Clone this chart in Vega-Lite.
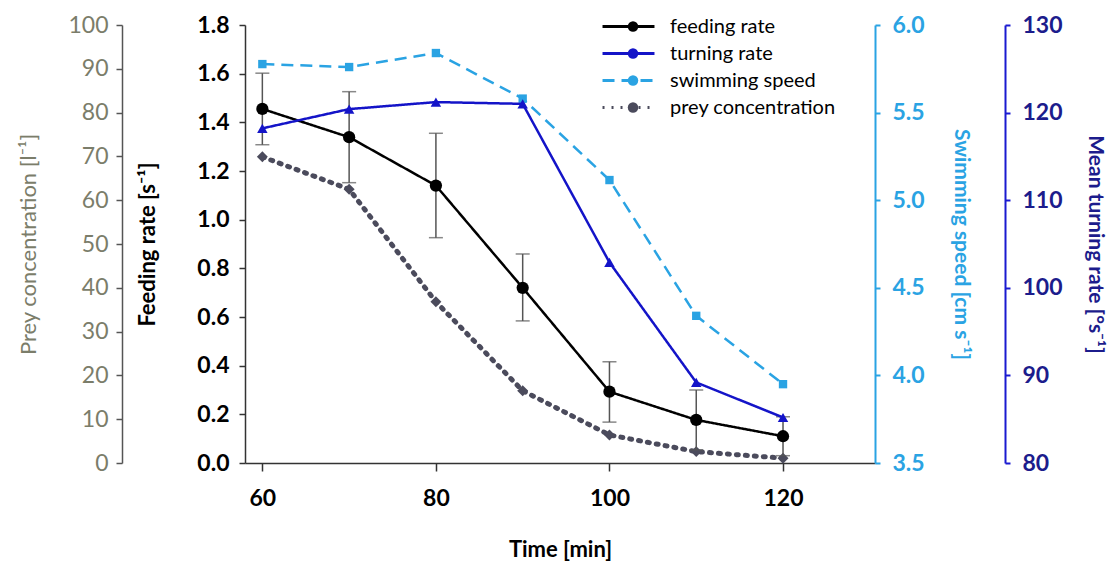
{
  "$schema": "https://vega.github.io/schema/vega-lite/v6.json",
  "width": 630,
  "height": 438,
  "autosize": "none",
  "padding": {"left": 245, "top": 25, "right": 244, "bottom": 100},
  "background": "white",
  "config": {
    "font": "Lato",
    "view": {"stroke": null},
    "axis": {"grid": false, "labelFont": "Lato", "titleFont": "Lato"},
    "legend": {"labelFont": "Lato"}
  },
  "data": {
    "values": [
      {"time": 60, "series": "feeding rate", "value": 1.455, "lo": 1.308, "hi": 1.602},
      {"time": 70, "series": "feeding rate", "value": 1.339, "lo": 1.152, "hi": 1.526},
      {"time": 80, "series": "feeding rate", "value": 1.140, "lo": 0.926, "hi": 1.355},
      {"time": 90, "series": "feeding rate", "value": 0.720, "lo": 0.584, "hi": 0.859},
      {"time": 100, "series": "feeding rate", "value": 0.293, "lo": 0.168, "hi": 0.416},
      {"time": 110, "series": "feeding rate", "value": 0.177, "lo": 0.054, "hi": 0.300},
      {"time": 120, "series": "feeding rate", "value": 0.110, "lo": 0.030, "hi": 0.190},
      {"time": 60, "series": "turning rate", "value": 118.2},
      {"time": 70, "series": "turning rate", "value": 120.4},
      {"time": 80, "series": "turning rate", "value": 121.2},
      {"time": 90, "series": "turning rate", "value": 121.0},
      {"time": 100, "series": "turning rate", "value": 102.9},
      {"time": 110, "series": "turning rate", "value": 89.2},
      {"time": 120, "series": "turning rate", "value": 85.2},
      {"time": 60, "series": "swimming speed", "value": 5.777},
      {"time": 70, "series": "swimming speed", "value": 5.76},
      {"time": 80, "series": "swimming speed", "value": 5.84},
      {"time": 90, "series": "swimming speed", "value": 5.58},
      {"time": 100, "series": "swimming speed", "value": 5.115},
      {"time": 110, "series": "swimming speed", "value": 4.34},
      {"time": 120, "series": "swimming speed", "value": 3.95},
      {"time": 60, "series": "prey concentration", "value": 69.9},
      {"time": 70, "series": "prey concentration", "value": 62.5},
      {"time": 80, "series": "prey concentration", "value": 36.8},
      {"time": 90, "series": "prey concentration", "value": 16.5},
      {"time": 100, "series": "prey concentration", "value": 6.4},
      {"time": 110, "series": "prey concentration", "value": 2.6},
      {"time": 120, "series": "prey concentration", "value": 1.1}
    ]
  },
  "encoding": {
    "x": {
      "field": "time",
      "type": "quantitative",
      "scale": {"domain": [58, 130.6], "nice": false, "zero": false},
      "axis": {
        "values": [60, 80, 100, 120],
        "title": "Time [min]",
        "titleFontSize": 22,
        "titleFontWeight": "bold",
        "titleColor": "#000000",
        "titlePadding": 29,
        "labelFontSize": 23,
        "labelFontWeight": "bold",
        "labelColor": "#000000",
        "labelPadding": 16,
        "tickSize": 8,
        "tickColor": "#333333",
        "domainColor": "#333333",
        "domainWidth": 1.5,
        "tickWidth": 1.5
      }
    },
    "color": {
      "field": "series",
      "type": "nominal",
      "scale": {
        "domain": ["feeding rate", "turning rate", "swimming speed", "prey concentration"],
        "range": ["#000000", "#1414c8", "#2aa3e3", "#4b4b5c"]
      },
      "legend": {
        "orient": "none",
        "legendX": 356,
        "legendY": -12,
        "title": null,
        "symbolType": "stroke",
        "symbolSize": 2700,
        "symbolStrokeWidth": 3,
        "labelFontSize": 20,
        "labelColor": "#000000",
        "labelOffset": 14,
        "labelLimit": 400,
        "clipHeight": 27,
        "rowPadding": 0
      }
    },
    "strokeDash": {
      "field": "series",
      "type": "nominal",
      "scale": {
        "domain": ["feeding rate", "turning rate", "swimming speed", "prey concentration"],
        "range": [[1, 0], [1, 0], [12, 7], [2, 7]]
      }
    }
  },
  "layer": [
    {
      "transform": [{"filter": "datum.series === 'prey concentration'"}],
      "encoding": {
        "y": {
          "field": "value",
          "type": "quantitative",
          "scale": {"domain": [0, 100], "nice": false},
          "axis": {
            "orient": "left",
            "offset": 123,
            "values": [0, 10, 20, 30, 40, 50, 60, 70, 80, 90, 100],
            "title": "Prey concentration [l⁻¹]",
            "titleFontSize": 22,
            "titleFontWeight": "normal",
            "titleColor": "#7b7d6a",
            "titlePadding": 27,
            "labelFontSize": 23,
            "labelColor": "#7b7d6a",
            "labelPadding": 8,
            "tickSize": 6,
            "tickColor": "#555555",
            "domainColor": "#555555",
            "domainWidth": 1.5,
            "tickWidth": 1.5
          }
        }
      },
      "layer": [
        {
          "mark": {"type": "line", "strokeWidth": 5, "strokeCap": "round"}
        },
        {
          "mark": {"type": "point", "filled": true, "size": 120, "opacity": 1},
          "encoding": {
            "color": null,
            "strokeDash": null,
            "shape": {
              "field": "series", "type": "nominal",
              "sort": ["feeding rate", "turning rate", "swimming speed", "prey concentration"],
              "scale": {"range": ["circle", "triangle-up", "square", "diamond"]},
              "legend": null
            },
            "fill": {
              "field": "series", "type": "nominal",
              "sort": ["feeding rate", "turning rate", "swimming speed", "prey concentration"],
              "scale": {"range": ["#000000", "#1414c8", "#2aa3e3", "#4b4b5c"]},
              "legend": {"orient": "none", "legendX": 378, "legendY": -12, "title": null, "symbolSize": 110, "symbolStrokeWidth": 0, "labelFontSize": 20, "labelExpr": "''", "labelLimit": 400, "clipHeight": 27, "rowPadding": 0, "encode": {"symbols": {"shape": {"value": {"signal": "scale('shape', datum.value)"}}}}}
            }
          }
        }
      ]
    },
    {
      "transform": [{"filter": "datum.series === 'feeding rate'"}],
      "layer": [
        {
          "mark": {"type": "errorbar", "ticks": true, "color": "#555555", "thickness": 1.5, "size": 14},
          "encoding": {
            "y": {
              "field": "lo",
              "type": "quantitative",
              "scale": {"domain": [0, 1.8], "nice": false},
              "title": "Feeding rate [s⁻¹]"
            },
            "y2": {"field": "hi"},
            "color": {"value": "#555555"},
            "strokeDash": {"value": [1, 0]}
          }
        },
        {
          "mark": {"type": "line", "strokeWidth": 2.5},
          "encoding": {
            "y": {
              "field": "value",
              "type": "quantitative",
              "scale": {"domain": [0, 1.8], "nice": false},
              "axis": {
                "orient": "left",
                "offset": 0,
                "values": [0, 0.2, 0.4, 0.6, 0.8, 1.0, 1.2, 1.4, 1.6, 1.8],
                "format": ".1f",
                "title": "Feeding rate [s⁻¹]",
                "titleFontSize": 22,
                "titleFontWeight": "bold",
                "titleColor": "#000000",
                "titlePadding": 37,
                "labelFontSize": 23,
                "labelFontWeight": "bold",
                "labelColor": "#000000",
                "labelPadding": 10,
                "tickSize": 6,
                "tickColor": "#333333",
                "domainColor": "#333333",
                "domainWidth": 1.5,
                "tickWidth": 1.5
              }
            }
          }
        },
        {
          "mark": {"type": "point", "filled": true, "size": 150, "opacity": 1},
          "encoding": {
            "y": {"field": "value", "type": "quantitative", "scale": {"domain": [0, 1.8], "nice": false}, "title": "Feeding rate [s⁻¹]"},
            "color": null,
            "strokeDash": null,
            "shape": {
              "field": "series", "type": "nominal",
              "sort": ["feeding rate", "turning rate", "swimming speed", "prey concentration"],
              "scale": {"range": ["circle", "triangle-up", "square", "diamond"]},
              "legend": null
            },
            "fill": {
              "field": "series", "type": "nominal",
              "sort": ["feeding rate", "turning rate", "swimming speed", "prey concentration"],
              "scale": {"range": ["#000000", "#1414c8", "#2aa3e3", "#4b4b5c"]},
              "legend": {"orient": "none", "legendX": 378, "legendY": -12, "title": null, "symbolSize": 110, "symbolStrokeWidth": 0, "labelFontSize": 20, "labelExpr": "''", "labelLimit": 400, "clipHeight": 27, "rowPadding": 0, "encode": {"symbols": {"shape": {"value": {"signal": "scale('shape', datum.value)"}}}}}
            }
          }
        }
      ]
    },
    {
      "transform": [{"filter": "datum.series === 'swimming speed'"}],
      "encoding": {
        "y": {
          "field": "value",
          "type": "quantitative",
          "scale": {"domain": [3.5, 6.0], "nice": false, "zero": false},
          "axis": {
            "orient": "right",
            "offset": 0,
            "values": [3.5, 4.0, 4.5, 5.0, 5.5, 6.0],
            "format": ".1f",
            "title": "Swimming speed [cm s⁻¹]",
            "titleFontSize": 21,
            "titleFontWeight": "bold",
            "titleColor": "#2aa3e3",
            "titlePadding": 26,
            "labelFontSize": 23,
            "labelFontWeight": "bold",
            "labelColor": "#2aa3e3",
            "labelPadding": 12,
            "tickSize": 5,
            "tickColor": "#2aa3e3",
            "domainColor": "#2aa3e3",
            "domainWidth": 2,
            "tickWidth": 2
          }
        }
      },
      "layer": [
        {
          "mark": {"type": "line", "strokeWidth": 2.5}
        },
        {
          "mark": {"type": "point", "filled": true, "size": 70, "opacity": 1},
          "encoding": {
            "color": null,
            "strokeDash": null,
            "shape": {
              "field": "series", "type": "nominal",
              "sort": ["feeding rate", "turning rate", "swimming speed", "prey concentration"],
              "scale": {"range": ["circle", "triangle-up", "square", "diamond"]},
              "legend": null
            },
            "fill": {
              "field": "series", "type": "nominal",
              "sort": ["feeding rate", "turning rate", "swimming speed", "prey concentration"],
              "scale": {"range": ["#000000", "#1414c8", "#2aa3e3", "#4b4b5c"]},
              "legend": {"orient": "none", "legendX": 378, "legendY": -12, "title": null, "symbolSize": 110, "symbolStrokeWidth": 0, "labelFontSize": 20, "labelExpr": "''", "labelLimit": 400, "clipHeight": 27, "rowPadding": 0, "encode": {"symbols": {"shape": {"value": {"signal": "scale('shape', datum.value)"}}}}}
            }
          }
        }
      ]
    },
    {
      "transform": [{"filter": "datum.series === 'turning rate'"}],
      "encoding": {
        "y": {
          "field": "value",
          "type": "quantitative",
          "scale": {"domain": [80, 130], "nice": false, "zero": false},
          "axis": {
            "orient": "right",
            "offset": 130,
            "values": [80, 90, 100, 110, 120, 130],
            "title": "Mean turning rate [°s⁻¹]",
            "titleFontSize": 21,
            "titleFontWeight": "bold",
            "titleColor": "#1c1c8c",
            "titlePadding": 22,
            "labelFontSize": 23,
            "labelFontWeight": "bold",
            "labelColor": "#1c1c8c",
            "labelPadding": 12,
            "tickSize": 5,
            "tickColor": "#1a1ad0",
            "domainColor": "#1a1ad0",
            "domainWidth": 2,
            "tickWidth": 2
          }
        }
      },
      "layer": [
        {
          "mark": {"type": "line", "strokeWidth": 2.5}
        },
        {
          "mark": {"type": "point", "filled": true, "size": 110, "opacity": 1},
          "encoding": {
            "color": null,
            "strokeDash": null,
            "shape": {
              "field": "series", "type": "nominal",
              "sort": ["feeding rate", "turning rate", "swimming speed", "prey concentration"],
              "scale": {"range": ["circle", "triangle-up", "square", "diamond"]},
              "legend": null
            },
            "fill": {
              "field": "series", "type": "nominal",
              "sort": ["feeding rate", "turning rate", "swimming speed", "prey concentration"],
              "scale": {"range": ["#000000", "#1414c8", "#2aa3e3", "#4b4b5c"]},
              "legend": {"orient": "none", "legendX": 378, "legendY": -12, "title": null, "symbolSize": 110, "symbolStrokeWidth": 0, "labelFontSize": 20, "labelExpr": "''", "labelLimit": 400, "clipHeight": 27, "rowPadding": 0, "encode": {"symbols": {"shape": {"value": {"signal": "scale('shape', datum.value)"}}}}}
            }
          }
        }
      ]
    }
  ],
  "resolve": {"scale": {"y": "independent"}, "axis": {"y": "independent"}}
}
